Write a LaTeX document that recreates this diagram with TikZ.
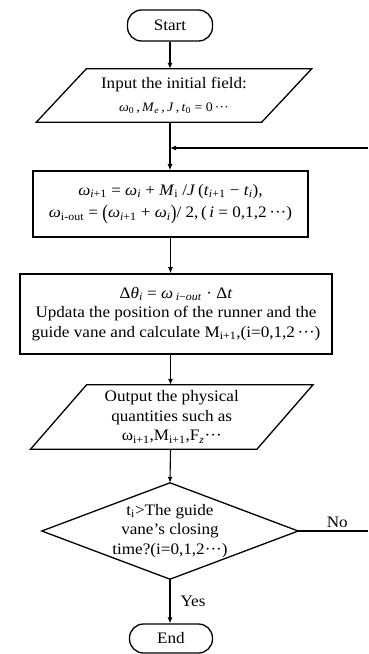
\documentclass[tikz,border=0pt]{standalone}
\usepackage{graphicx}
\usepackage{fontspec}
\setmainfont[FakeStretch=1.07]{Liberation Serif}
\usetikzlibrary{arrows.meta,calc}
\newcommand{\vi}[1]{\textit{#1}}
\newcommand{\sbs}[1]{\textsubscript{#1}}
\newcommand{\bigpar}[1]{\raisebox{-0.12em}{\scalebox{1}[1.3]{#1}}}
\begin{document}
\begin{tikzpicture}[x=1pt,y=-1pt,
  every node/.style={font=\fontsize{16}{19.5}\selectfont, align=center, inner sep=0pt},
  term/.style={draw, line width=1.3pt, rounded corners=14pt, minimum width=85pt, minimum height=31pt},
  procbox/.style={draw, line width=1.6pt},
  outline/.style={line width=1.3pt, line join=miter},
  arr/.style={line width=1.1pt, -{Latex[length=6pt,width=5pt]}},
  conn/.style={line width=1.1pt}]
\useasboundingbox (0,0) rectangle (368,654);

% nodes
\node[term] (start) at (170,25.5) {Start};
\node[minimum width=225pt, minimum height=53pt] (in) at (174,95.5)
  {Input the initial field:\\[4pt]
   {\fontsize{13}{15}\selectfont \vi{ω}\sbs{0}\,,\,\vi{M}\sbs{\vi{e}}\,,\,\vi{J}\,,\,\vi{t}\sbs{0} = 0\,···}};
\draw[outline] ([xshift=25pt]in.north west) -- ([xshift=25pt]in.north east)
  -- ([xshift=-25pt]in.south east) -- ([xshift=-25pt]in.south west) -- cycle;

\node[procbox, minimum width=275pt, minimum height=66pt] (b1) at (170.5,204)
  {\vi{ω}\sbs{\vi{i}+1} = \vi{ω}\sbs{\vi{i}} + \vi{M}\sbs{i} /\vi{J}\,(\vi{t}\sbs{\vi{i}+1} − \vi{t}\sbs{\vi{i}}),\\[3pt]
   \vi{ω}\sbs{i-out} = \bigpar{(}\vi{ω}\sbs{\vi{i}+1} + \vi{ω}\sbs{\vi{i}}\bigpar{)}/ 2,\,(\,\vi{i} = 0,1,2\,···)};

\node[procbox, minimum width=312pt, minimum height=80pt] (b2) at (176,314)
  {Δ\vi{θ}\sbs{\vi{i}} = \vi{ω}\,\sbs{\vi{i}−\vi{out}} · Δ\vi{t}\\
   Updata the position of the runner and the\\
   guide vane and calculate M\sbs{i+1},(i=0,1,2\,···)};

\node[minimum width=226pt, minimum height=64pt] (out) at (171.75,417)
  {Output the physical\\ quantities such as\\ ω\sbs{i+1},M\sbs{i+1},F\sbs{\vi{z}}···};
\draw[outline] ([xshift=28pt]out.north west) -- ([xshift=28pt]out.north east)
  -- ([xshift=-28pt]out.south east) -- ([xshift=-28pt]out.south west) -- cycle;

\node[minimum width=256pt, minimum height=96pt] (dec) at (170,531)
  {t\sbs{i}>The guide\\ vane's closing\\ time?(i=0,1,2···)};
\draw[outline] (dec.north) -- (dec.east) -- (dec.south) -- (dec.west) -- cycle;

\node[term, minimum width=83pt, minimum height=29pt] (end) at (171,638.5) {End};

% connectors
\coordinate (ret) at (368,148);
\coordinate (jn) at (start.south |- ret);
\coordinate (noend) at (368,531);
\draw[arr] (start.south) -- (start.south |- in.north);
\draw[arr] (start.south |- in.south) -- (start.south |- b1.north);
\draw[arr] (ret) -- (jn);
\draw[arr] (b1.south) -- (b1.south |- b2.north);
\draw[arr] (b1.south |- b2.south) -- (b1.south |- out.north);
\draw[arr] (b1.south |- out.south) -- (dec.north);
\draw[arr] (dec.south) -- (dec.south |- end.north) node[pos=0.5, right=10pt] {Yes};
\draw[conn] (dec.east) -- (noend) node[pos=0.56, above=3pt] {No};
\end{tikzpicture}
\end{document}
